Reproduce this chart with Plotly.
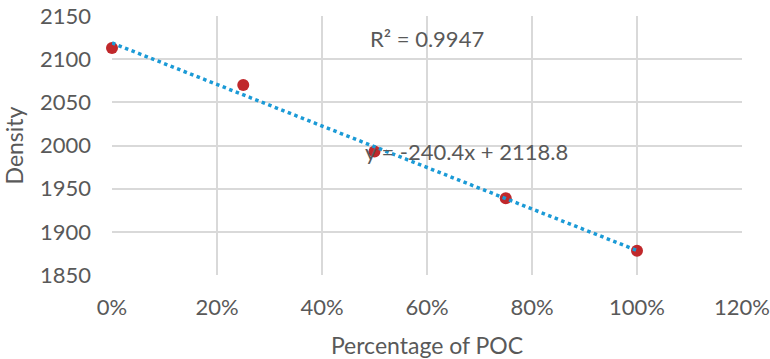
import numpy as np
import plotly.graph_objects as go

# POC share and measured density
poc_share = [0.0, 0.25, 0.50, 0.75, 1.00]
density = [2113, 2070, 1993, 1939, 1878]

x_ticks = [0, 0.2, 0.4, 0.6, 0.8, 1.0, 1.2]
y_ticks = [1850, 1900, 1950, 2000, 2050, 2100, 2150]

# Linear trend fitted to the data
slope, intercept = np.polyfit(poc_share, density, 1)
pred = np.polyval([slope, intercept], poc_share)
ss_res = np.sum((np.array(density) - pred) ** 2)
ss_tot = np.sum((np.array(density) - np.mean(density)) ** 2)
r2 = 1 - ss_res / ss_tot
trend_x = [poc_share[0], poc_share[-1]]
trend_y = list(np.polyval([slope, intercept], trend_x))

font_family = "Lato, 'Open Sans', sans-serif"
grey_text = "#595959"
grid = "#d9d9d9"

fig = go.Figure()
fig.add_trace(go.Scatter(
    x=poc_share, y=density, mode="markers",
    marker=dict(color="#c0282b", size=12, line=dict(width=0)),
    cliponaxis=False, showlegend=False,
))
fig.add_trace(go.Scatter(
    x=trend_x, y=trend_y, mode="lines",
    line=dict(color="#1b9ad6", width=3.5, dash="dot"),
    cliponaxis=False, showlegend=False,
))

fig.add_annotation(
    x=0.6, y=2124.5, xref="x", yref="y",
    text=f"R² = {r2:.4f}", showarrow=False,
    font=dict(family=font_family, size=22, color=grey_text),
)
fig.add_annotation(
    x=0.675, y=1992.6, xref="x", yref="y",
    text=f"y = {slope:.1f}x + {intercept:.1f}", showarrow=False,
    font=dict(family=font_family, size=22, color=grey_text),
)

fig.update_layout(
    width=770, height=359,
    margin=dict(l=112, r=28, t=16, b=84, autoexpand=False),
    paper_bgcolor="white", plot_bgcolor="white",
    font=dict(family=font_family, color=grey_text, size=22),
    xaxis=dict(
        range=[0, 1.2], tickvals=x_ticks, tickformat=".0%",
        showgrid=True, gridcolor=grid, gridwidth=1.5, zeroline=False,
        showline=False, ticks="", ticklabelstandoff=17, automargin=False,
        title=dict(text="Percentage of POC", font=dict(size=23), standoff=22),
    ),
    yaxis=dict(
        range=[1850, 2150], tickvals=y_ticks,
        showgrid=True, gridcolor=grid, gridwidth=1.5, zeroline=False,
        showline=False, ticks="", ticklabelstandoff=20, automargin=False,
        title=dict(text="Density", font=dict(size=23), standoff=10),
    ),
)

fig.write_html("out.html")
